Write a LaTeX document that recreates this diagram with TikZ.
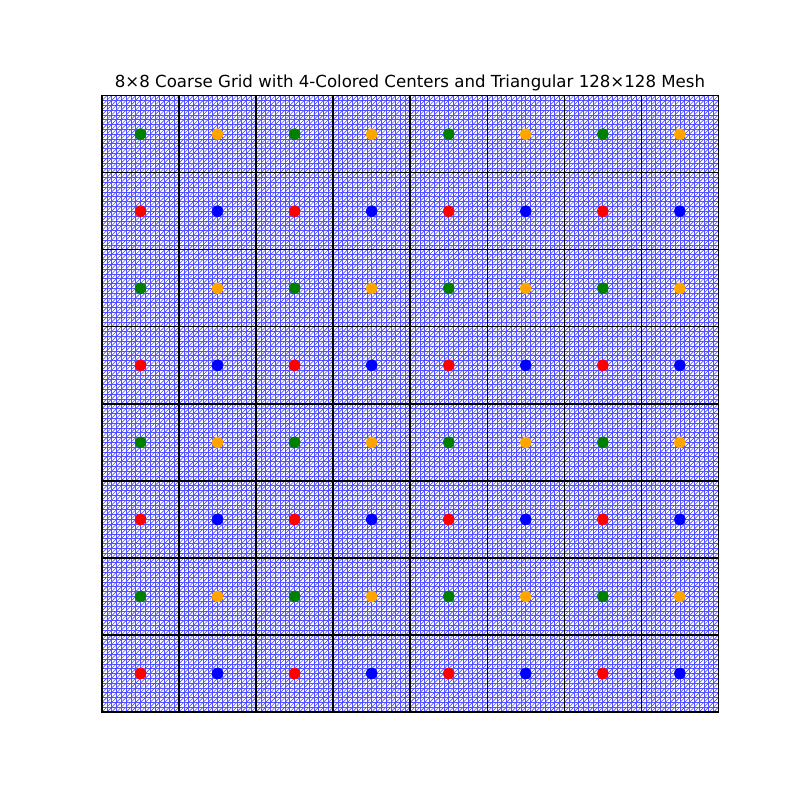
\documentclass[tikz,border=0pt]{standalone}
\usepackage{fontspec}
\setmainfont{DejaVu Sans}
\definecolor{mgreen}{RGB}{0,128,0}
\definecolor{morange}{RGB}{255,165,0}
\definecolor{mred}{RGB}{255,0,0}
\definecolor{mblue}{RGB}{0,0,255}
\definecolor{meshblue}{RGB}{80,80,255}
\tikzset{
  fine/.style={meshblue, line width=0.45pt},
  coarse/.style={black, line width=1pt},
  dot/.style={circle, inner sep=0pt, minimum size=8.3pt, draw=none},
}
\begin{document}
\begin{tikzpicture}[x=0.01in, y=-0.01in]
\useasboundingbox (0,0) rectangle (800,800);
\fill[white] (0,0) rectangle (800,800);
\node[anchor=base, font=\fontsize{12pt}{14pt}\selectfont, inner sep=0pt] (title) at (410,87.7) {8×8 Coarse Grid with 4-Colored Centers and Triangular 128×128 Mesh};
\begin{scope}[shift={(102,712)}]
\begin{scope}[x=0.77in, y=0.77in]
  \foreach \k in {0,...,128} {
    \draw[fine] ({\k/16},0) -- ({\k/16},8);
    \draw[fine] (0,{\k/16}) -- (8,{\k/16});
  }
  \foreach \k in {1,...,127} {
    \draw[fine] ({\k/16},0) -- (8,{8-\k/16});
    \draw[fine] (0,{\k/16}) -- ({8-\k/16},8);
  }
  \draw[fine] (0,0) -- (8,8);
  \foreach \k in {1,...,7} {
    \draw[coarse] (\k,0) -- (\k,8);
    \draw[coarse] (0,\k) -- (8,\k);
  }
  \draw[coarse] (0,0) rectangle (8,8);
  \foreach \i in {0,...,7} {
    \foreach \j in {0,...,7} {
      \pgfmathtruncatemacro{\ci}{mod(\i,2)}
      \pgfmathtruncatemacro{\cj}{mod(\j,2)}
      \ifnum\cj=1
        \ifnum\ci=0 \def\dc{mgreen}\else\def\dc{morange}\fi
      \else
        \ifnum\ci=0 \def\dc{mred}\else\def\dc{mblue}\fi
      \fi
      \node[dot, fill=\dc] (c\i\j) at (\i+0.5,\j+0.5) {};
    }
  }
\end{scope}
\end{scope}
\end{tikzpicture}
\end{document}
